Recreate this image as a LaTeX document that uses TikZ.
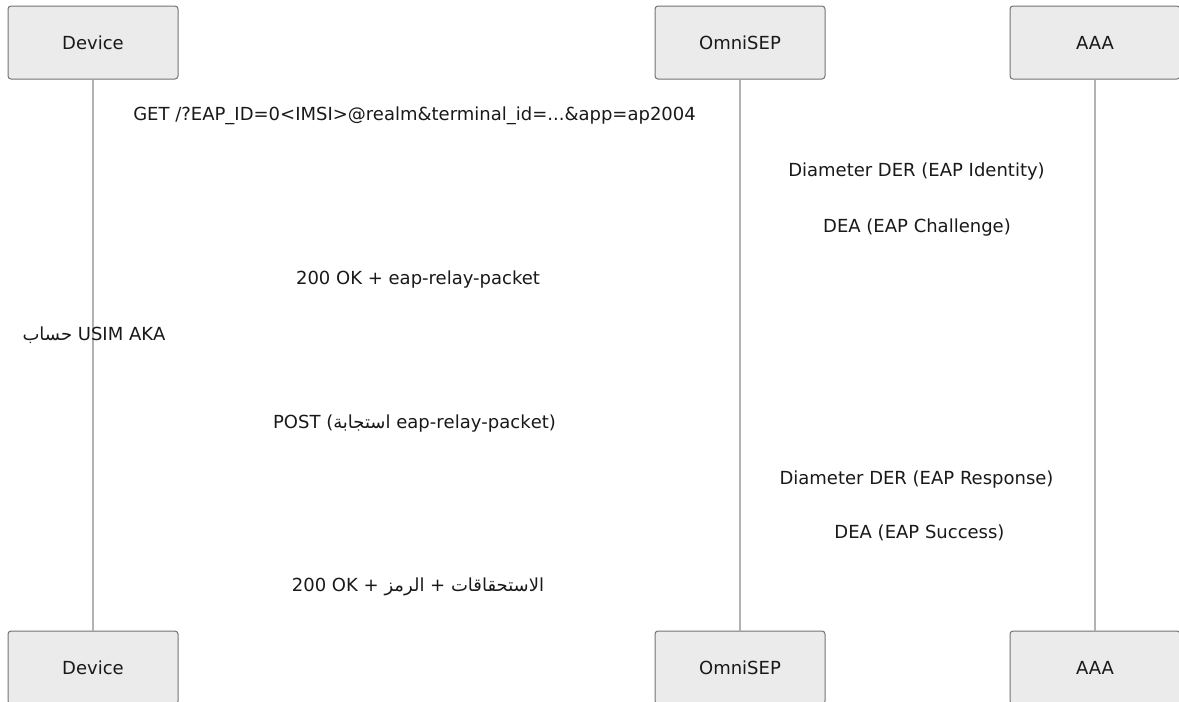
\documentclass[tikz,border=0pt]{standalone}
\usepackage{fontspec}
\setmainfont{DejaVu Sans}
\newfontfamily\arabicfont[Script=Arabic]{DejaVu Sans}
\TeXXeTstate=1
\begin{document}
\begin{tikzpicture}[x=1pt,y=-1pt,
  actorbox/.style={draw=black!55, fill=black!8, line width=1pt, rounded corners=3pt,
    minimum width=170pt, minimum height=73pt, inner sep=0pt, font=\fontsize{18}{21}\selectfont, text=black!90},
  lifeline/.style={draw=black!30, line width=1.2pt},
  msg/.style={inner sep=0pt, font=\fontsize{18}{21}\selectfont, text=black!90}]
\useasboundingbox (0,0) rectangle (1179,702);
\clip (0,0) rectangle (1179,702);
% actors top
\node[actorbox] (devT) at (93,42.5) {Device};
\node[actorbox] (omnT) at (740,42.5) {OmniSEP};
\node[actorbox] (aaaT) at (1095,42.5) {AAA};
% actors bottom
\node[actorbox] (devB) at (93,667.5) {Device};
\node[actorbox] (omnB) at (740,667.5) {OmniSEP};
\node[actorbox] (aaaB) at (1095,667.5) {AAA};
% lifelines
\draw[lifeline] (devT.south) -- (devB.north);
\draw[lifeline] (omnT.south) -- (omnB.north);
\draw[lifeline] (aaaT.south) -- (aaaB.north);
% messages
\node[msg] (m1) at (414.5,116) {GET /?EAP\_ID=0<IMSI>@realm\&terminal\_id=...\&app=ap2004};
\node[msg] (m2) at (916.5,172) {Diameter DER (EAP Identity)};
\node[msg] (m3) at (917,228) {DEA (EAP Challenge)};
\node[msg] (m4) at (418,280) {200 OK + eap-relay-packet};
\node[msg] (m5) at (94,335.5) {\arabicfont\beginR حساب\endR{} USIM AKA};
\node[msg] (m6) at (414.5,424) {POST (\arabicfont\beginR استجابة\endR{} eap-relay-packet)};
\node[msg] (m7) at (916.5,480) {Diameter DER (EAP Response)};
\node[msg] (m8) at (919.5,533) {DEA (EAP Success)};
\node[msg] (m9) at (418,587) {200 OK + \arabicfont\beginR الرمز\endR{} + \beginR الاستحقاقات\endR};
\end{tikzpicture}
\end{document}
